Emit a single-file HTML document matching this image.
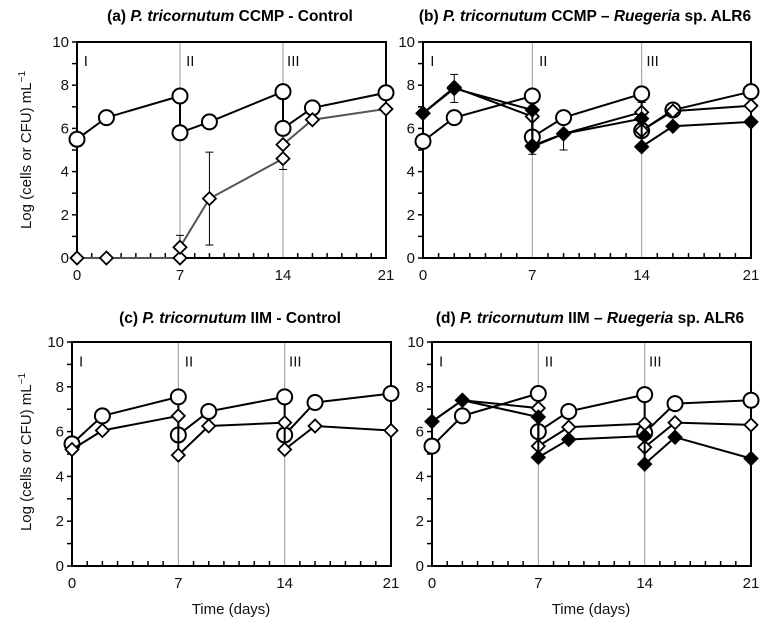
<!DOCTYPE html>
<html><head><meta charset="utf-8">
<style>
html,body{margin:0;padding:0;background:#fff;}
svg{display:block;font-family:"Liberation Sans",Arial,sans-serif;}
</style></head>
<body>
<svg id="fig" width="768" height="630" viewBox="0 0 768 630"></svg>
<script>
// ---- data ----
const days = [0,2,7,7,9,14,14,16,21];
const tickLabels = ["0","7","14","21"];
const tickDays = [0,7,14,21];
const yTicks = [0,2,4,6,8,10];
const phases = ["I","II","III"];
const phaseDays = [0.6,7.7,14.7];

const aCircle = [5.5,6.5,7.5,5.8,6.3,7.7,6.0,6.95,7.65];
const aDiamondDays = [0,2,7,7,9,14,14,16,21];
const aDiamond = [0,0,0,0.5,2.75,4.6,5.25,6.4,6.9];
const aDiamondErrLo = [null,null,null,null,0.6,4.1,null,null,null];
const aDiamondErrHi = [null,null,null,1.05,4.9,null,null,null,null];

const bCircle = [5.4,6.5,7.5,5.6,6.5,7.6,5.9,6.85,7.7];
const bDiamond = [6.7,7.9,6.55,5.2,5.75,6.75,5.9,6.8,7.05];
const bFilled = [6.7,7.85,6.85,5.15,5.75,6.45,5.15,6.1,6.3];
const bFilledErrLo = [null,7.2,null,4.8,5.0,null,null,null,null];
const bFilledErrHi = [null,8.5,null,null,null,7.2,null,null,null];

const cCircle = [5.45,6.7,7.55,5.85,6.9,7.55,5.85,7.3,7.7];
const cDiamond = [5.2,6.05,6.7,4.95,6.25,6.4,5.2,6.25,6.05];

const dCircle = [5.35,6.7,7.7,6.0,6.9,7.65,5.95,7.25,7.4];
const dDiamond = [6.45,7.4,7.05,5.35,6.2,6.35,5.3,6.4,6.3];
const dFilled = [6.45,7.4,6.65,4.85,5.65,5.8,4.55,5.75,4.8];

const NS="http://www.w3.org/2000/svg";
const svg=document.getElementById('fig');
function mk(tag,attrs,parent){const e=document.createElementNS(NS,tag);for(const k in attrs)e.setAttribute(k,attrs[k]);(parent||svg).appendChild(e);return e;}

function panel(p){
  const g=mk('g',{});
  
  
  const X=d=>p.x0+(p.x1-p.x0)*d/21;
  const Y=v=>p.y0+(p.y1-p.y0)*v/10;
  // phase lines
  [7,14].forEach(d=>{const l=mk('line',{x1:X(d),x2:X(d),y1:p.y1,y2:p.y0,stroke:'#999','stroke-width':1},g);
    });
  phases.forEach((t,i)=>{const e=mk('text',{x:X(phaseDays[i]),y:Y(8.9),'font-size':15,fill:'#111','text-anchor':'middle'},g);e.textContent=t;
    });
  // frame
  const fr=mk('rect',{x:p.x0,y:p.y1,width:p.x1-p.x0,height:p.y0-p.y1,fill:'none',stroke:'#000','stroke-width':2},g);
  
  // x ticks
  for(let d=0;d<=21;d++){mk('line',{x1:X(d),x2:X(d),y1:p.y0,y2:p.y0-(tickDays.includes(d)?0:5),stroke:'#000','stroke-width':1.5},g);}
  tickDays.forEach((d,i)=>{const e=mk('text',{x:X(d),y:p.y0+22,'font-size':15,'text-anchor':'middle',fill:'#111'},g);e.textContent=tickLabels[i];
    });
  for(let v=0;v<=10;v++){mk('line',{x1:p.x0,x2:p.x0-5,y1:Y(v),y2:Y(v),stroke:'#000','stroke-width':1.5},g);}
  yTicks.forEach(v=>{const e=mk('text',{x:p.x0-8,y:Y(v)+5,'font-size':15,'text-anchor':'end',fill:'#111'},g);e.textContent=v;
    });
  // title
  const t=mk('text',{x:p.tx,y:p.ty,'font-size':15.5,'font-weight':'bold','text-anchor':'middle',fill:'#000'},g);
  t.innerHTML=p.title;
  
  // series
  p.series.forEach(s=>{
    const dd=s.days||days;
    if(s.lo) s.lo.forEach((v,i)=>{if(v!=null){mk('line',{x1:X(dd[i]),x2:X(dd[i]),y1:Y(s.vals[i]),y2:Y(v),stroke:'#000','stroke-width':1},g);mk('line',{x1:X(dd[i])-4,x2:X(dd[i])+4,y1:Y(v),y2:Y(v),stroke:'#000','stroke-width':1},g);}});
    if(s.hi) s.hi.forEach((v,i)=>{if(v!=null){mk('line',{x1:X(dd[i]),x2:X(dd[i]),y1:Y(s.vals[i]),y2:Y(v),stroke:'#000','stroke-width':1},g);mk('line',{x1:X(dd[i])-4,x2:X(dd[i])+4,y1:Y(v),y2:Y(v),stroke:'#000','stroke-width':1},g);}});
    const pts=s.vals.map((v,i)=>X(dd[i])+','+Y(v)).join(' ');
    const pl=mk('polyline',{points:pts,fill:'none',stroke:s.line||'#000','stroke-width':2},g);
    
    s.vals.forEach((v,i)=>{
      const cx=X(dd[i]),cy=Y(v);let m;
      if(s.m==='c') m=mk('circle',{cx:cx,cy:cy,r:7.5,fill:'#fff',stroke:'#000','stroke-width':2},g);
      else {const r=6.5;m=mk('polygon',{points:`${cx},${cy-r} ${cx+r},${cy} ${cx},${cy+r} ${cx-r},${cy}`,fill:s.m==='f'?'#000':'#fff',stroke:'#000','stroke-width':1.8},g);}
      
      
    });
  });
}

panel({name:'panel-a',x0:77,x1:386,y0:258,y1:42,tx:230,ty:21,
  title:'(a) <tspan font-style="italic">P. tricornutum</tspan> CCMP - Control',
  series:[{name:'diatom-circle',m:'c',vals:aCircle},
          {name:'bacteria-diamond',m:'o',vals:aDiamond,days:aDiamondDays,line:'#555',lo:aDiamondErrLo,hi:aDiamondErrHi}]});
panel({name:'panel-b',x0:423,x1:751,y0:258,y1:42,tx:585,ty:21,
  title:'(b) <tspan font-style="italic">P. tricornutum</tspan> CCMP – <tspan font-style="italic">Ruegeria</tspan> sp. ALR6',
  series:[{name:'diatom-circle',m:'c',vals:bCircle},
          {name:'open-diamond',m:'o',vals:bDiamond},
          {name:'filled-diamond',m:'f',vals:bFilled,lo:bFilledErrLo,hi:bFilledErrHi}]});
panel({name:'panel-c',x0:72,x1:391,y0:566,y1:342,tx:230,ty:323,
  title:'(c) <tspan font-style="italic">P. tricornutum</tspan> IIM - Control',
  series:[{name:'diatom-circle',m:'c',vals:cCircle},
          {name:'bacteria-diamond',m:'o',vals:cDiamond}]});
panel({name:'panel-d',x0:432,x1:751,y0:566,y1:342,tx:590,ty:323,
  title:'(d) <tspan font-style="italic">P. tricornutum</tspan> IIM – <tspan font-style="italic">Ruegeria</tspan> sp. ALR6',
  series:[{name:'diatom-circle',m:'c',vals:dCircle},
          {name:'open-diamond',m:'o',vals:dDiamond},
          {name:'filled-diamond',m:'f',vals:dFilled}]});

[[150,'y-axis-title-top'],[452,'y-axis-title-bottom']].forEach(([cy,n])=>{
  const e=mk('text',{x:0,y:0,transform:`translate(31,${cy}) rotate(-90)`,'font-size':15,'text-anchor':'middle',fill:'#111'});
  e.innerHTML='Log (cells or CFU) mL<tspan dy="-6" font-size="10">−1</tspan>';
  
});
[[231,'x-axis-title-left'],[591,'x-axis-title-right']].forEach(([cx,n])=>{
  const e=mk('text',{x:cx,y:614,'font-size':15,'text-anchor':'middle',fill:'#111'});
  e.textContent='Time (days)';
  
});
</script>
</body></html>
